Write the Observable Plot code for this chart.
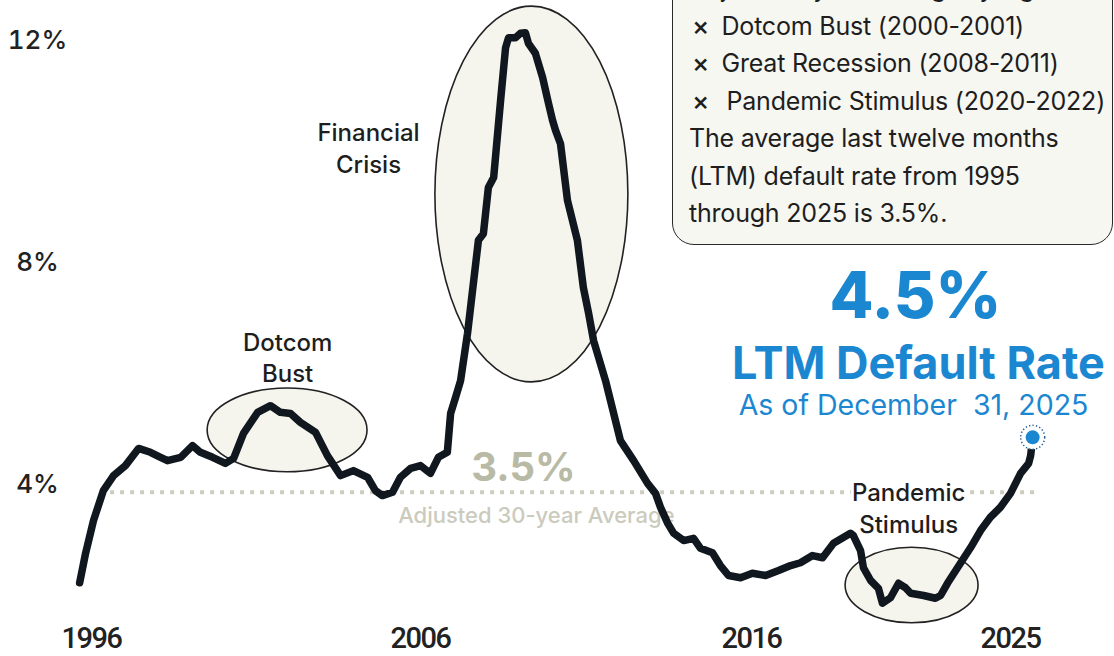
<!DOCTYPE html>
<html><head><meta charset="utf-8">
<script src="https://cdn.jsdelivr.net/npm/d3@7"></script>
<script src="https://cdn.jsdelivr.net/npm/@observablehq/plot@0.6"></script>
<style>
html,body{margin:0;padding:0;background:#fff;overflow:hidden;}
#wrap{position:relative;width:1114px;height:656px;overflow:hidden;font-family:Inter,"Noto Sans",sans-serif;}
#chart{position:absolute;left:0;top:0;}
#chart g[aria-label="x-axis tick label"] text{letter-spacing:-1.5px;}
#box{position:absolute;left:672px;top:-40px;width:441px;height:285px;box-sizing:border-box;border:1.5px solid #2a2a2a;border-radius:22px;background:#f7f7f2;padding:9px 0 0 19px;font-size:25px;color:#1e1e1e;white-space:nowrap;letter-spacing:-0.2px;}
#box div{height:37.5px;line-height:37.5px;}
#box .m{display:inline-block;width:29.5px;font-weight:500;font-size:26px;line-height:1;}
#box .m2{width:34.5px;}
#box .p{margin-left:-3px;}
</style></head>
<body><div id="wrap"><div id="chart"></div>
<div id="box">
<div class="p">Adjusted by excluding key significant events:</div>
<div><span class="m">×</span>Dotcom Bust (2000-2001)</div>
<div><span class="m">×</span>Great Recession (2008-2011)</div>
<div><span class="m m2">×</span>Pandemic Stimulus (2020-2022)</div>
<div class="p">The average last twelve months</div>
<div class="p">(LTM) default rate from 1995</div>
<div class="p">through 2025 is 3.5%.</div>
</div></div>
<script>
// LTM default rate (%)
const years = [1995.64,1995.82,1996.06,1996.36,1996.67,1997.03,1997.43,1997.79,1998.10,1998.31,1998.71,1999.07,1999.31,1999.68,2000.07,2000.32,2000.62,2001.05,2001.44,2001.74,2002.05,2002.35,2002.81,2003.17,2003.57,2003.96,2004.39,2004.63,2004.84,2005.15,2005.39,2005.70,2006.00,2006.30,2006.54,2006.81,2006.91,2007.06,2007.21,2007.42,2007.75,2007.90,2008.05,2008.21,2008.42,2008.57,2008.66,2008.87,2009.02,2009.17,2009.26,2009.47,2009.69,2009.87,2009.99,2010.08,2010.23,2010.44,2010.74,2010.92,2011.08,2011.23,2011.59,2012.04,2012.44,2012.86,2013.10,2013.25,2013.47,2013.65,2013.95,2014.25,2014.46,2014.82,2015.06,2015.31,2015.67,2016.03,2016.49,2016.94,2017.36,2017.70,2018.12,2018.47,2018.85,2019.44,2019.54,2019.79,2019.89,2020.14,2020.41,2020.55,2020.83,2021.11,2021.35,2021.53,2021.98,2022.39,2022.57,2022.81,2023.26,2023.61,2023.96,2024.30,2024.65,2025.00,2025.35,2025.63,2025.70,2025.77];
const rates = [2.23,2.76,3.35,3.89,4.16,4.34,4.65,4.58,4.49,4.43,4.49,4.70,4.58,4.49,4.38,4.47,4.92,5.30,5.42,5.30,5.28,5.12,4.94,4.52,4.16,4.25,4.13,3.89,3.80,3.86,4.13,4.29,4.34,4.20,4.49,4.58,5.28,5.57,5.87,6.72,8.40,8.52,9.35,9.53,10.92,11.87,12.05,12.05,12.13,12.14,11.95,11.77,11.33,10.86,10.56,10.38,10.14,9.12,8.40,7.55,7.08,6.59,5.87,4.79,4.43,4.02,3.84,3.59,3.30,3.12,2.99,3.03,2.85,2.77,2.54,2.36,2.32,2.40,2.36,2.45,2.54,2.59,2.72,2.68,2.94,3.12,3.08,2.81,2.50,2.27,2.13,1.86,1.96,2.22,2.14,2.04,2.00,1.95,2.00,2.22,2.58,2.86,3.17,3.41,3.59,3.84,4.20,4.38,4.52,4.85];
const xTicks = [1996, 2006, 2016, 2025];
const yTicks = [4, 8, 12];
const avgLevel = 3.86;
const avgLabel = "3.5%";
// highlighted episodes (data units)
const ellipseX0 = [1999.53, 2006.45, 2019.27];
const ellipseX1 = [2004.39, 2012.28, 2023.89];
const ellipseY0 = [4.22, 5.84, 1.50];
const ellipseY1 = [5.73, 12.61, 2.86];
const episodeLabels = ["Dotcom\nBust", "Financial\nCrisis", "Pandemic\nStimulus"];
const episodeLabelX = [2001.96, 2004.42, 2021.46];
const episodeLabelY = [6.31, 10.09, 3.60];

const series = years.map((t, i) => ({t, v: rates[i]}));
const last = series[series.length - 1];
const ellipses = ellipseX0.map((x0, i) => ({x0, x1: ellipseX1[i], y0: ellipseY0[i], y1: ellipseY1[i]}));
const episodes = episodeLabels.map((l, i) => ({l, x: episodeLabelX[i], y: episodeLabelY[i]}));

const BLUE = "#1b87d1";
const ellipseMark = (index, scales) => {
  const g = d3.create("svg:g");
  for (const e of ellipses) {
    const xa = scales.x(e.x0), xb = scales.x(e.x1), ya = scales.y(e.y0), yb = scales.y(e.y1);
    g.append("ellipse")
      .attr("cx", (xa + xb) / 2).attr("cy", (ya + yb) / 2)
      .attr("rx", Math.abs(xb - xa) / 2).attr("ry", Math.abs(yb - ya) / 2)
      .attr("fill", "#f5f5ee").attr("stroke", "#222").attr("stroke-width", 1.6);
  }
  return g.node();
};

const chart = Plot.plot({
  width: 1114, height: 656,
  marginLeft: 60, marginBottom: 29, marginTop: 0, marginRight: 0,
  style: {fontFamily: "Inter, sans-serif", background: "transparent", color: "#222", overflow: "visible"},
  x: {type: "linear", domain: [1996, 2006, 2016, 2025], range: [91, 420, 751, 1010], axis: null},
  y: {type: "linear", domain: [0, 12], range: [706, 40], axis: null},
  marks: [
    ellipseMark,
    Plot.ruleY([avgLevel], {x1: 1996.58, x2: 2026.04, stroke: "#cdcdbf", strokeWidth: 4, strokeDasharray: "4,6"}),
    Plot.text([avgLabel], {x: 2009.11, y: 4.29, text: d => d, fontSize: 40, fontWeight: 700, fill: "#b9baa6"}),
    Plot.text(["Adjusted 30-year Average"], {x: 2009.50, y: 3.44, text: d => d, fontSize: 22, fontWeight: 500, fill: "#cbcbbd"}),
    Plot.text(episodes, {x: "x", y: "y", text: "l", fontSize: 24, fontWeight: 500, lineHeight: 1.33, fill: "#1e1e1e", stroke: "white", strokeWidth: 6}),
    Plot.line(series, {x: "t", y: "v", stroke: "#10171f", strokeWidth: 7.5, strokeLinejoin: "round", strokeLinecap: "round"}),
    Plot.dot([last], {x: "t", y: "v", r: 12, fill: "white", stroke: "#1f5f9e", strokeWidth: 1.5, strokeDasharray: "1.3,2.2"}),
    Plot.dot([last], {x: "t", y: "v", r: 7, fill: BLUE}),
    Plot.text(["4.5%"], {x: 2021.70, y: 7.37, text: d => d, fontSize: 64, fontWeight: 800, fill: BLUE}),
    Plot.text(["LTM Default Rate"], {x: 2021.80, y: 6.16, text: d => d, fontSize: 45, fontWeight: 700, fill: BLUE}),
    Plot.text(["As of December  31, 2025"], {x: 2021.63, y: 5.41, text: d => d, fontSize: 28.5, fill: BLUE}),
    Plot.axisY(yTicks, {tickSize: 0, tickPadding: 0, dx: -23, textAnchor: "middle", fontSize: 26, fontWeight: 500, tickFormat: d => d + "%", label: null}),
    Plot.axisX(xTicks, {tickSize: 0, tickPadding: 0, fontSize: 29, fontWeight: 500, fontFamily: "Roboto, sans-serif", tickFormat: d => String(d), label: null})
  ]
});
document.getElementById("chart").appendChild(chart);
</script>
</body></html>
